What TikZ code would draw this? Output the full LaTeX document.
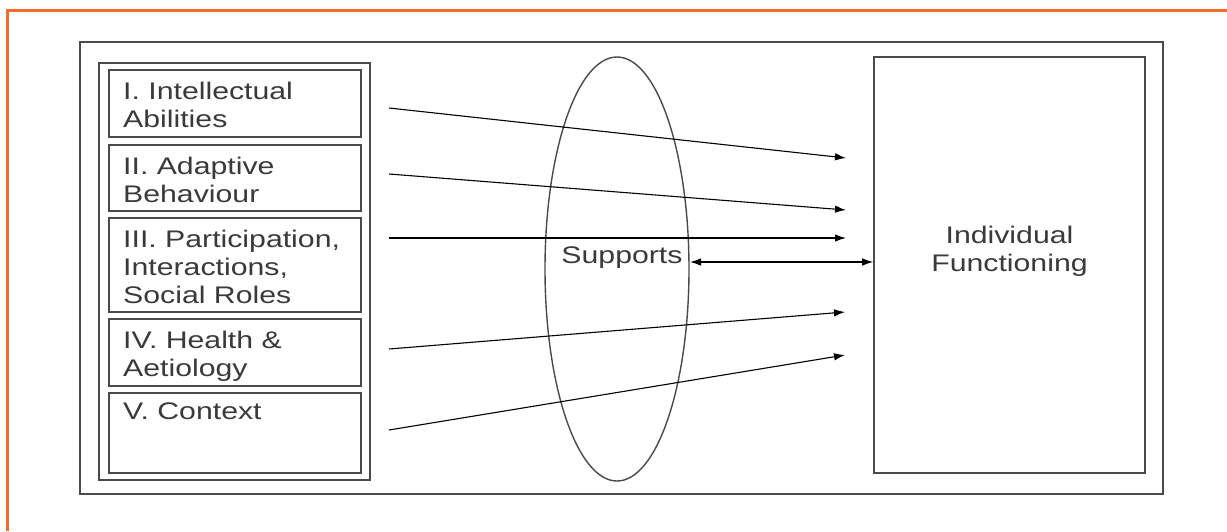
\documentclass[tikz,border=0pt]{standalone}
\usepackage{fontspec}
\setmainfont{Liberation Sans}[FakeStretch=1.26]
\usetikzlibrary{arrows.meta}
\definecolor{frameorange}{HTML}{F26B2A}
\definecolor{boxgray}{HTML}{4A4A4A}
\definecolor{txtgray}{HTML}{3A3A3A}
\begin{document}
\begin{tikzpicture}[x=1pt,y=-1pt,
  boxline/.style={draw=boxgray,line width=1.6pt},
  lbl/.style={inner sep=0pt,text=txtgray,font=\fontsize{24}{28}\selectfont,align=left},
  arr/.style={line width=1.1pt,-{Latex[length=11pt,width=7.5pt]}},
  darr/.style={line width=1.1pt,{Latex[length=11pt,width=7.5pt]}-{Latex[length=11pt,width=7.5pt]}}]
\useasboundingbox (0,0) rectangle (1227,531);
\fill[white] (0,0) rectangle (1227,531);
% orange frame
\draw[frameorange,line width=3pt] (7.5,531) -- (7.5,10.5) -- (1227,10.5);
% outer box
\draw[boxline] (80,42) rectangle (1163,494);
% left container
\draw[boxline] (99,63) rectangle (370,480);
% dimension boxes
\draw[boxline] (109,70) rectangle (361,137) coordinate (b1);
\draw[boxline] (109,145) rectangle (361,211) coordinate (b2);
\draw[boxline] (109,218) rectangle (361,312) coordinate (b3);
\draw[boxline] (109,319) rectangle (361,386) coordinate (b4);
\draw[boxline] (109,393) rectangle (361,473) coordinate (b5);
\node[lbl,anchor=north west] (t1) at (123,82) {I. Intellectual\\Abilities};
\node[lbl,anchor=north west] (t2) at (123,157) {II. Adaptive\\Behaviour};
\node[lbl,anchor=north west] (t3) at (123,230) {III. Participation,\\Interactions,\\Social Roles};
\node[lbl,anchor=north west] (t4) at (123,331) {IV. Health \&\\Aetiology};
\node[lbl,anchor=north west] (t5) at (123,403) {V. Context};
% supports ellipse
\draw[boxline,line width=1.4pt] (617,269) ellipse [x radius=72, y radius=212];
\node[lbl,anchor=center] (sup) at (622,258) {Supports};
\coordinate (supR) at (690,262);
% individual functioning
\node[boxline,minimum width=271pt,minimum height=416pt,inner sep=0pt] (ind) at (1009.5,265) {};
\node[lbl,align=center,anchor=center] (indt) at (1009.5,251) {Individual\\Functioning};
% arrows
\coordinate (s1) at (389,108); \coordinate (e1) at (846,158);
\coordinate (s2) at (389,174); \coordinate (e2) at (846,210);
\coordinate (s3) at (389,238); \coordinate (e3) at (846,238);
\coordinate (s4) at (389,349); \coordinate (e4) at (845,312);
\coordinate (s5) at (389,430); \coordinate (e5) at (845,355);
\draw[arr] (s1) -- (e1);
\draw[arr] (s2) -- (e2);
\draw[arr] (s3) -- (e3);
\draw[arr] (s4) -- (e4);
\draw[arr] (s5) -- (e5);
\draw[darr] (supR) -- (ind.west |- supR);
\end{tikzpicture}
\end{document}
